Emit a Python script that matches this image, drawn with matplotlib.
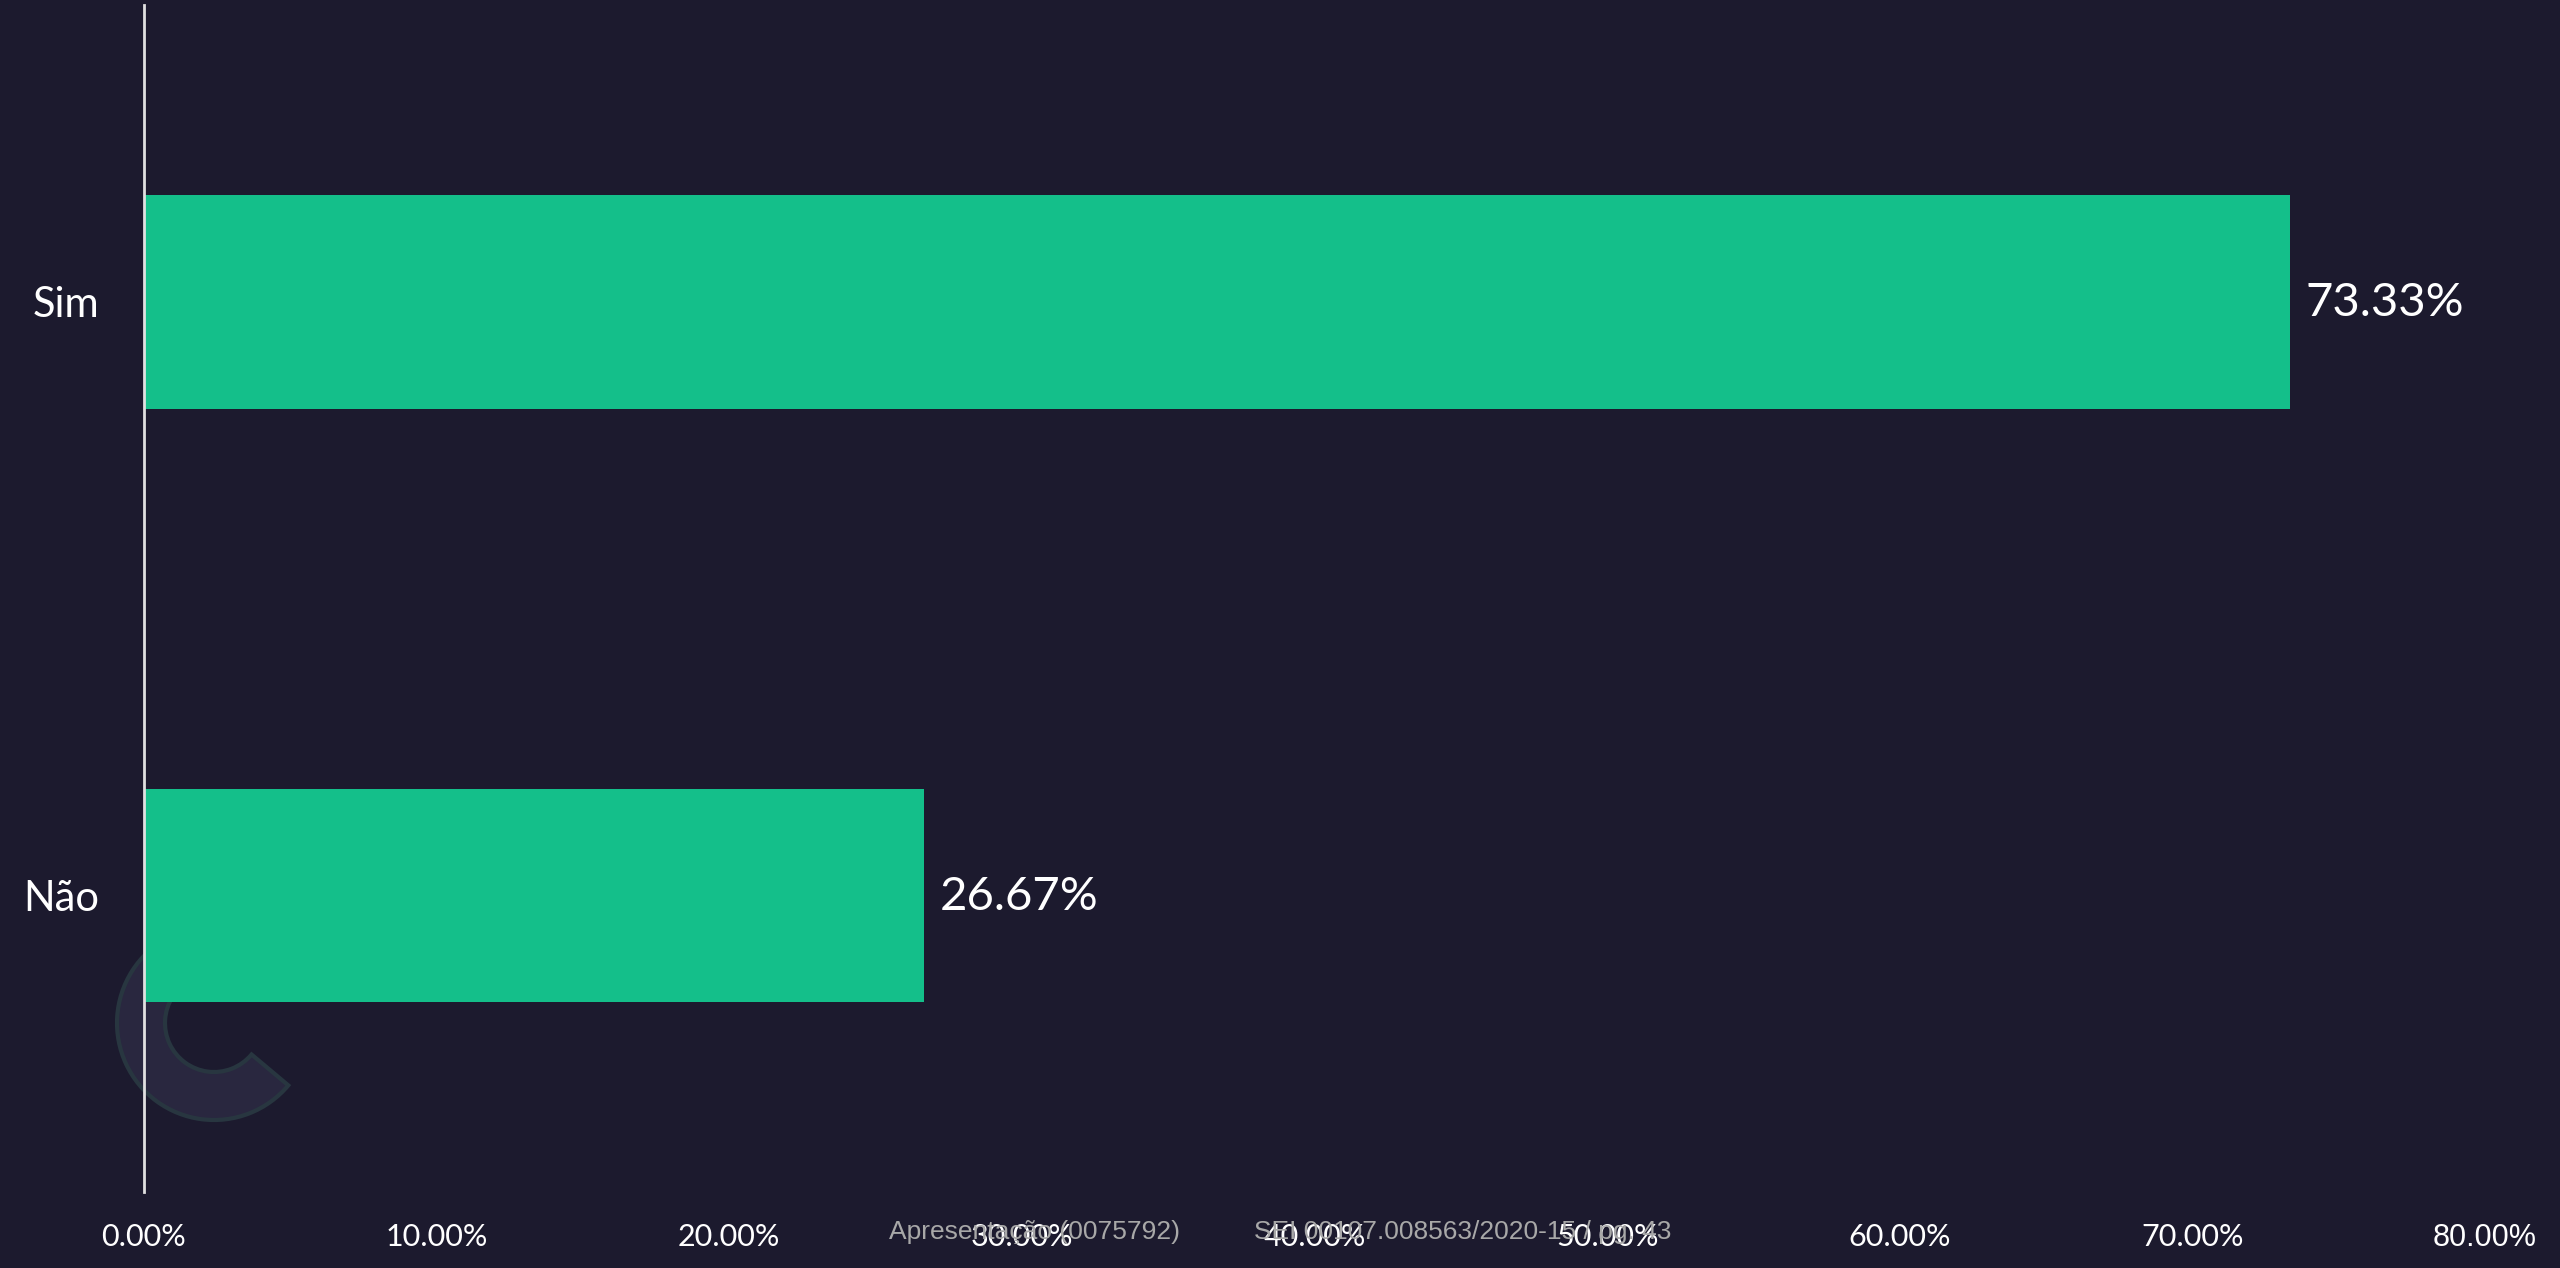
import matplotlib
matplotlib.use('Agg')
import matplotlib.pyplot as plt
from matplotlib.patches import Wedge
from matplotlib.ticker import FuncFormatter

# dados
categorias = ['Sim', 'Não']
valores = [73.33, 26.67]
ticks_x = [0, 10, 20, 30, 40, 50, 60, 70, 80]

fundo = '#1c1a2e'
verde = '#14bf8a'

plt.rcParams['font.family'] = ['Lato', 'DejaVu Sans']

fig = plt.figure(figsize=(25.6, 12.68), dpi=100, facecolor=fundo)
ax = fig.add_axes([0.05625, 0.0599, 0.9145, 0.936])
ax.set_facecolor(fundo)

barras = ax.barh(categorias, valores, height=0.36, color=verde, zorder=3)
ax.set_ylim(1.5, -0.5)
ax.set_xlim(0, 80)

# rótulos de valor
for b, v in zip(barras, valores):
    ax.annotate(f'{v:.2f}%', (b.get_width(), b.get_y() + b.get_height() / 2),
                xytext=(11, -1), textcoords='offset points', va='center', ha='left',
                color='white', fontsize=34, zorder=4)

ax.set_xticks(ticks_x)
ax.xaxis.set_major_formatter(FuncFormatter(lambda x, p: f'{x:.2f}%'))
ax.tick_params(axis='x', length=0, pad=22, labelsize=22, labelcolor='white')
ax.tick_params(axis='y', length=0, pad=32, labelsize=30, labelcolor='white')
ax.get_xticklabels()[-1].set_family('Liberation Sans')

for s in ['top', 'right', 'bottom']:
    ax.spines[s].set_visible(False)
ax.spines['left'].set_color('#e0e0e0')
ax.spines['left'].set_linewidth(2)
ax.spines['left'].set_zorder(5)

# logotipo apagado no fundo
anel = Wedge((2.14, 2.45), 0.97, 90, 320, width=0.48, transform=fig.dpi_scale_trans,
             facecolor='#29273f', edgecolor='#283640', linewidth=3, zorder=1, clip_on=False)
ax.add_artist(anel)

# marca d'água do documento
fig.text(0.404, 0.0284, 'Apresentação (0075792)', color='#a8a8a8', fontsize=19,
         family='Liberation Sans', ha='center', va='center')
fig.text(0.5715, 0.0284, 'SEI 00107.008563/2020-15 / pg. 43', color='#a8a8a8', fontsize=19,
         family='Liberation Sans', ha='center', va='center')

fig.savefig('out.png', dpi=100, facecolor=fundo)
